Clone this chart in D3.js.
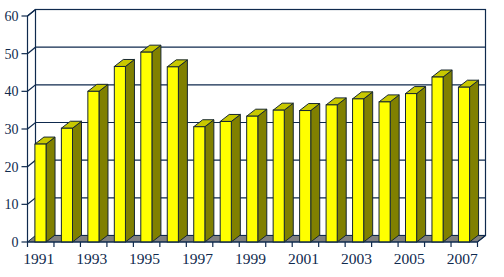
<!DOCTYPE html>
<html>
<head>
<meta charset="utf-8">
<script src="https://cdn.jsdelivr.net/npm/d3@7"></script>
<style>
  body { margin: 0; background: #fff; }
  svg { display: block; }
</style>
</head>
<body>
<div id="chart"></div>
<script>
// data
const years = ['1991','1992','1993','1994','1995','1996','1997','1998','1999',
               '2000','2001','2002','2003','2004','2005','2006','2007'];
const values = [26, 30.2, 40, 46.6, 50.4, 46.5, 30.6, 32, 33.4,
                35, 34.9, 36.4, 38, 37.2, 39.4, 43.8, 41.1];
const yTicks = [0, 10, 20, 30, 40, 50, 60];
const xLabels = ['1991','1993','1995','1997','1999','2001','2003','2005','2007'];

const width = 504, height = 277;
const plotLeft = 27.5, plotRight = 477.5, plotBottom = 242, plotTop = 16;
const wallDx = 8, wallDy = 6.5;   // depth of the box
const barDx = 9, barDy = 7;       // depth of each bar
const ink = '#0f2a4e';

const svg = d3.select('#chart')
              .append('svg')
              .attr('width', width)
              .attr('height', height);

let scaleX = d3.scaleBand().domain(years).range([plotLeft, plotRight]);
let scaleY = d3.scaleLinear().domain([0, 60]).range([plotBottom, plotTop]);
const bw = scaleX.bandwidth();

// back wall
svg.append('rect')
   .attr('x', plotLeft + wallDx)
   .attr('y', plotTop - wallDy)
   .attr('width', plotRight - plotLeft)
   .attr('height', plotBottom - plotTop)
   .style('fill', '#fff')
   .style('stroke', ink)
   .style('stroke-width', 1.2);

// grid lines on back wall + diagonals on the left wall
svg.selectAll('.grid')
   .data(yTicks.filter(d => d > 0))
   .enter()
   .append('path')
   .attr('class', 'grid')
   .attr('d', d => 'M' + plotLeft + ',' + scaleY(d) +
                   'L' + (plotLeft + wallDx) + ',' + (scaleY(d) - wallDy) +
                   'L' + (plotRight + wallDx) + ',' + (scaleY(d) - wallDy))
   .style('fill', 'none')
   .style('stroke', ink)
   .style('stroke-width', 1.2);

// floor
svg.append('path')
   .attr('d', 'M' + plotLeft + ',' + plotBottom + 'L' + plotRight + ',' + plotBottom +
              'L' + (plotRight + wallDx) + ',' + (plotBottom - wallDy) +
              'L' + (plotLeft + wallDx) + ',' + (plotBottom - wallDy) + 'Z')
   .style('fill', '#808080')
   .style('stroke', ink)
   .style('stroke-width', 1);

// bars
let bars = svg.selectAll('.bar')
              .data(years.map((y, i) => ({year: y, value: values[i]})))
              .enter()
              .append('g')
              .attr('class', 'bar');

const fx = d => scaleX(d.year) + bw * 0.28;
const fw = bw * 0.42;

bars.append('path')   // side
    .attr('d', d => {
        let x1 = fx(d) + fw, yt = scaleY(d.value);
        return 'M' + x1 + ',' + plotBottom + 'L' + x1 + ',' + yt +
               'L' + (x1 + barDx) + ',' + (yt - barDy) +
               'L' + (x1 + barDx) + ',' + (plotBottom - barDy) + 'Z';
    })
    .style('fill', '#808000')
    .style('stroke', '#17272f')
    .style('stroke-width', 1);

bars.append('path')   // top
    .attr('d', d => {
        let x0 = fx(d), yt = scaleY(d.value);
        return 'M' + x0 + ',' + yt + 'L' + (x0 + fw) + ',' + yt +
               'L' + (x0 + fw + barDx) + ',' + (yt - barDy) +
               'L' + (x0 + barDx) + ',' + (yt - barDy) + 'Z';
    })
    .style('fill', '#c8c800')
    .style('stroke', '#17272f')
    .style('stroke-width', 1);

bars.append('rect')   // front
    .attr('x', d => fx(d))
    .attr('y', d => scaleY(d.value))
    .attr('width', fw)
    .attr('height', d => plotBottom - scaleY(d.value))
    .style('fill', '#ffff00')
    .style('stroke', '#17272f')
    .style('stroke-width', 1);

// front axes
svg.append('line')
   .attr('x1', plotLeft).attr('x2', plotLeft)
   .attr('y1', plotTop).attr('y2', plotBottom)
   .style('stroke', ink).style('stroke-width', 1.2);

svg.append('path')
   .attr('d', 'M' + plotLeft + ',' + plotBottom + 'L' + plotRight + ',' + plotBottom +
              'L' + (plotRight + wallDx) + ',' + (plotBottom - wallDy))
   .style('fill', 'none')
   .style('stroke', ink).style('stroke-width', 1.2);

// y ticks
svg.selectAll('.ytick')
   .data(yTicks)
   .enter()
   .append('line')
   .attr('x1', plotLeft - 6).attr('x2', plotLeft)
   .attr('y1', d => scaleY(d)).attr('y2', d => scaleY(d))
   .style('stroke', ink).style('stroke-width', 1.2);

svg.append('path')
   .attr('d', 'M' + plotLeft + ',' + plotTop + 'L' + (plotLeft + wallDx) + ',' + (plotTop - wallDy))
   .style('stroke', ink).style('stroke-width', 1.2);

svg.selectAll('.ylabel')
   .data(yTicks)
   .enter()
   .append('text')
   .attr('x', plotLeft - 9)
   .attr('y', d => scaleY(d))
   .attr('dy', '0.35em')
   .style('text-anchor', 'end')
   .style('font-family', '"Liberation Serif", "Times New Roman", serif')
   .style('font-size', '14px')
   .style('fill', ink)
   .text(d => d);

// x ticks at category boundaries
svg.selectAll('.xtick')
   .data(years.concat(['end']))
   .enter()
   .append('line')
   .attr('x1', d => d === 'end' ? plotRight : scaleX(d))
   .attr('x2', d => d === 'end' ? plotRight : scaleX(d))
   .attr('y1', plotBottom).attr('y2', plotBottom + 5)
   .style('stroke', ink).style('stroke-width', 1.2);

svg.selectAll('.xlabel')
   .data(xLabels)
   .enter()
   .append('text')
   .attr('x', d => scaleX(d) + bw / 2 - 2)
   .attr('y', 264)
   .style('text-anchor', 'middle')
   .style('font-family', '"Liberation Serif", "Times New Roman", serif')
   .style('font-size', '15.5px')
   .style('fill', ink)
   .text(d => d);
</script>
</body>
</html>
